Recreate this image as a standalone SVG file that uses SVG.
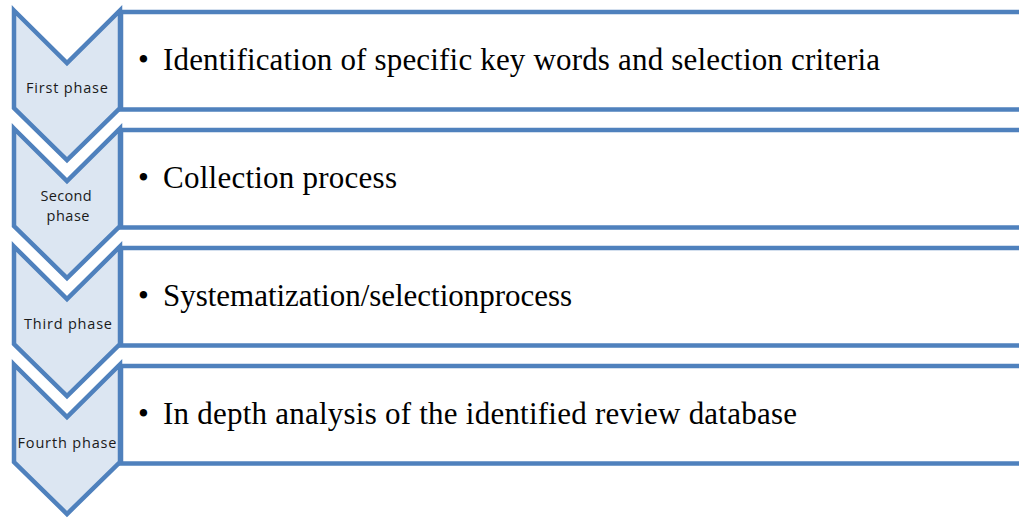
<svg xmlns="http://www.w3.org/2000/svg" width="1019" height="518" viewBox="0 0 1019 518">
<style>
.box{fill:#ffffff;stroke:#4f81bd;stroke-width:4.5}
.chev{fill:#dce6f2;stroke:#4f81bd;stroke-width:4.5;stroke-linejoin:miter}
.lbl{font-family:"Open Sans","Liberation Sans",sans-serif;font-size:14.5px;fill:#1a1a1a;text-anchor:middle}
.main{font-family:"Liberation Serif","Times New Roman",serif;font-size:31px;fill:#000000}
</style>
<defs>
<path id="chevShape" d="M14,10.5 L67,63 L120,10.5 L120,108 L67,160 L14,108 Z"/>
</defs>
<g id="connectors"></g>
<g id="phase1">
<rect class="box" x="121" y="12" width="910" height="97.5"/>
<use href="#chevShape" class="chev"/>
<text class="lbl" x="67" y="93" textLength="82" lengthAdjust="spacing">First phase</text>
<text class="main" x="138" y="70">•</text>
<text class="main" x="163" y="70" textLength="717" lengthAdjust="spacing">Identification of specific key words and selection criteria</text>
</g>
<g id="phase2">
<rect class="box" x="121" y="130" width="910" height="97.5"/>
<use href="#chevShape" class="chev" transform="translate(0,118)"/>
<text class="lbl" x="66" y="201" textLength="51" lengthAdjust="spacing">Second</text>
<text class="lbl" x="68" y="221" textLength="43" lengthAdjust="spacing">phase</text>
<text class="main" x="138" y="188">•</text>
<text class="main" x="163" y="188" textLength="234" lengthAdjust="spacing">Collection process</text>
</g>
<g id="phase3">
<rect class="box" x="121" y="248" width="910" height="97.5"/>
<use href="#chevShape" class="chev" transform="translate(0,236)"/>
<text class="lbl" x="68" y="329" textLength="88" lengthAdjust="spacing">Third phase</text>
<text class="main" x="138" y="306">•</text>
<text class="main" x="163" y="306" textLength="409" lengthAdjust="spacing">Systematization/selectionprocess</text>
</g>
<g id="phase4">
<rect class="box" x="121" y="366" width="910" height="97.5"/>
<use href="#chevShape" class="chev" transform="translate(0,354)"/>
<text class="lbl" x="67" y="448" textLength="99" lengthAdjust="spacing">Fourth phase</text>
<text class="main" x="138" y="424">•</text>
<text class="main" x="163" y="424" textLength="634" lengthAdjust="spacing">In depth analysis of the identified review database</text>
</g>
</svg>
